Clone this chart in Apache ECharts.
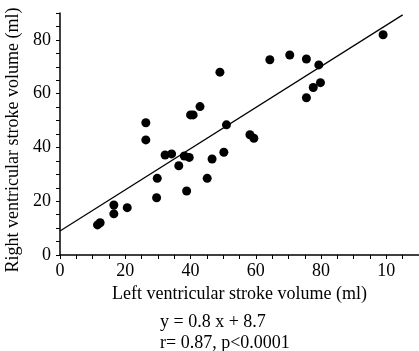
<!DOCTYPE html>
<html>
<head>
<meta charset="utf-8">
<script src="https://cdn.jsdelivr.net/npm/echarts@6/dist/echarts.min.js"></script>
<style>
  html, body {margin: 0; padding: 0; background: #fff; overflow: hidden;}
  #chart {width: 419px; height: 351px;}
</style>
</head>
<body>
<div id="chart"></div>
<script>
// left ventricular stroke volume (ml)
var lvsv = [99, 64.3, 70.4, 75.5, 79.3, 79.8, 77.6, 75.5, 49, 42.9, 40, 40.8, 26.3, 26.3, 51,
  58.2, 59.4, 50.2, 46.6, 36.4, 32.2, 34.2, 38.1, 39.6, 29.8, 45.1, 29.6, 38.8, 16.5, 16.5,
  20.6, 11.5, 12.3];
// right ventricular stroke volume (ml)
var rvsv = [81.9, 72.6, 74.4, 72.9, 70.7, 64.1, 62.3, 58.5, 68, 55.2, 52.1, 52.1, 49.2, 42.8, 48.4,
  44.7, 43.4, 38.2, 35.7, 33.2, 37.2, 37.6, 36.8, 36.3, 28.5, 28.5, 21.3, 23.8, 18.6, 15.3,
  17.6, 11.2, 12.0];
// regression line as drawn
var fitX = [0, 105];
var fitY = [8.9, 89.3];

var xLabelValues = [0, 20, 40, 60, 80, 100];
var xLabelTexts = ['0', '20', '40', '60', '80', '10'];
var yLabelValues = [0, 20, 40, 60, 80];

var font = 'Liberation Serif';
var labelFont = '18px "Liberation Serif"';

function findLabel(values, v) {
  for (var i = 0; i < values.length; i++) {
    if (Math.abs(values[i] - v) < 1e-6) return i;
  }
  return -1;
}

var chart = echarts.init(document.getElementById('chart'));

var axisCommon = {
  type: 'value',
  splitLine: {show: false},
  axisLine: {show: true, lineStyle: {color: '#000', width: 1.5}},
  axisTick: {show: true, inside: false, length: 4, lineStyle: {color: '#000', width: 1}},
  nameLocation: 'middle',
  nameTextStyle: {fontFamily: font, fontSize: 18, color: '#000'}
};

chart.setOption({
  animation: false,
  grid: {left: 60, right: 0, top: 13, bottom: 96, outerBoundsMode: 'none', containLabel: false},
  xAxis: Object.assign({}, axisCommon, {
    min: 0,
    max: 110,
    interval: 20,
    minorTick: {show: true, splitNumber: 4, length: 4, lineStyle: {color: '#000', width: 1}},
    name: 'Left ventricular stroke volume (ml)',
    nameGap: 30,
    axisLabel: {
      margin: 7, fontFamily: font, fontSize: 18, color: '#000',
      hideOverlap: false,
      showMaxLabel: false,
      formatter: function (v) {
        var i = findLabel(xLabelValues, v);
        // the last label is placed separately below
        return (i >= 0 && i < xLabelValues.length - 1) ? xLabelTexts[i] : '';
      }
    }
  }),
  yAxis: Object.assign({}, axisCommon, {
    min: 0,
    max: 90,
    interval: 5,
    name: 'Right ventricular stroke volume (ml)',
    nameGap: 26,
    nameTextStyle: {fontFamily: font, fontSize: 18, color: '#000', padding: [0, 12, 0, 0]},
    axisLabel: {
      margin: 9, fontFamily: font, fontSize: 18, color: '#000',
      formatter: function (v) {
        return findLabel(yLabelValues, v) >= 0 ? String(Math.round(v)) : '';
      }
    }
  }),
  series: [
    {
      type: 'line',
      data: fitX.map(function (x, i) { return [x, fitY[i]]; }),
      symbol: 'none',
      lineStyle: {color: '#000', width: 1.2},
      z: 1
    },
    {
      type: 'scatter',
      data: lvsv.map(function (x, i) { return [x, rvsv[i]]; }),
      symbol: 'circle',
      symbolSize: 9,
      itemStyle: {color: '#000', opacity: 1},
      z: 2
    }
  ]
});

// last x tick label, positioned through the axis scale
var lastIdx = xLabelValues.length - 1;
var lastPos = chart.convertToPixel({xAxisIndex: 0, yAxisIndex: 0}, [xLabelValues[lastIdx], 0]);

chart.setOption({
  graphic: [
    {
      type: 'text', x: lastPos[0], y: lastPos[1] + 7,
      style: {text: xLabelTexts[lastIdx], font: labelFont, fill: '#000', align: 'center', verticalAlign: 'top'}
    },
    {
      type: 'text', left: 160, top: 313,
      style: {text: 'y = 0.8 x + 8.7', font: labelFont, fill: '#000'}
    },
    {
      type: 'text', left: 160, top: 334,
      style: {text: 'r= 0.87, p<0.0001', font: labelFont, fill: '#000'}
    }
  ]
});
</script>
</body>
</html>
